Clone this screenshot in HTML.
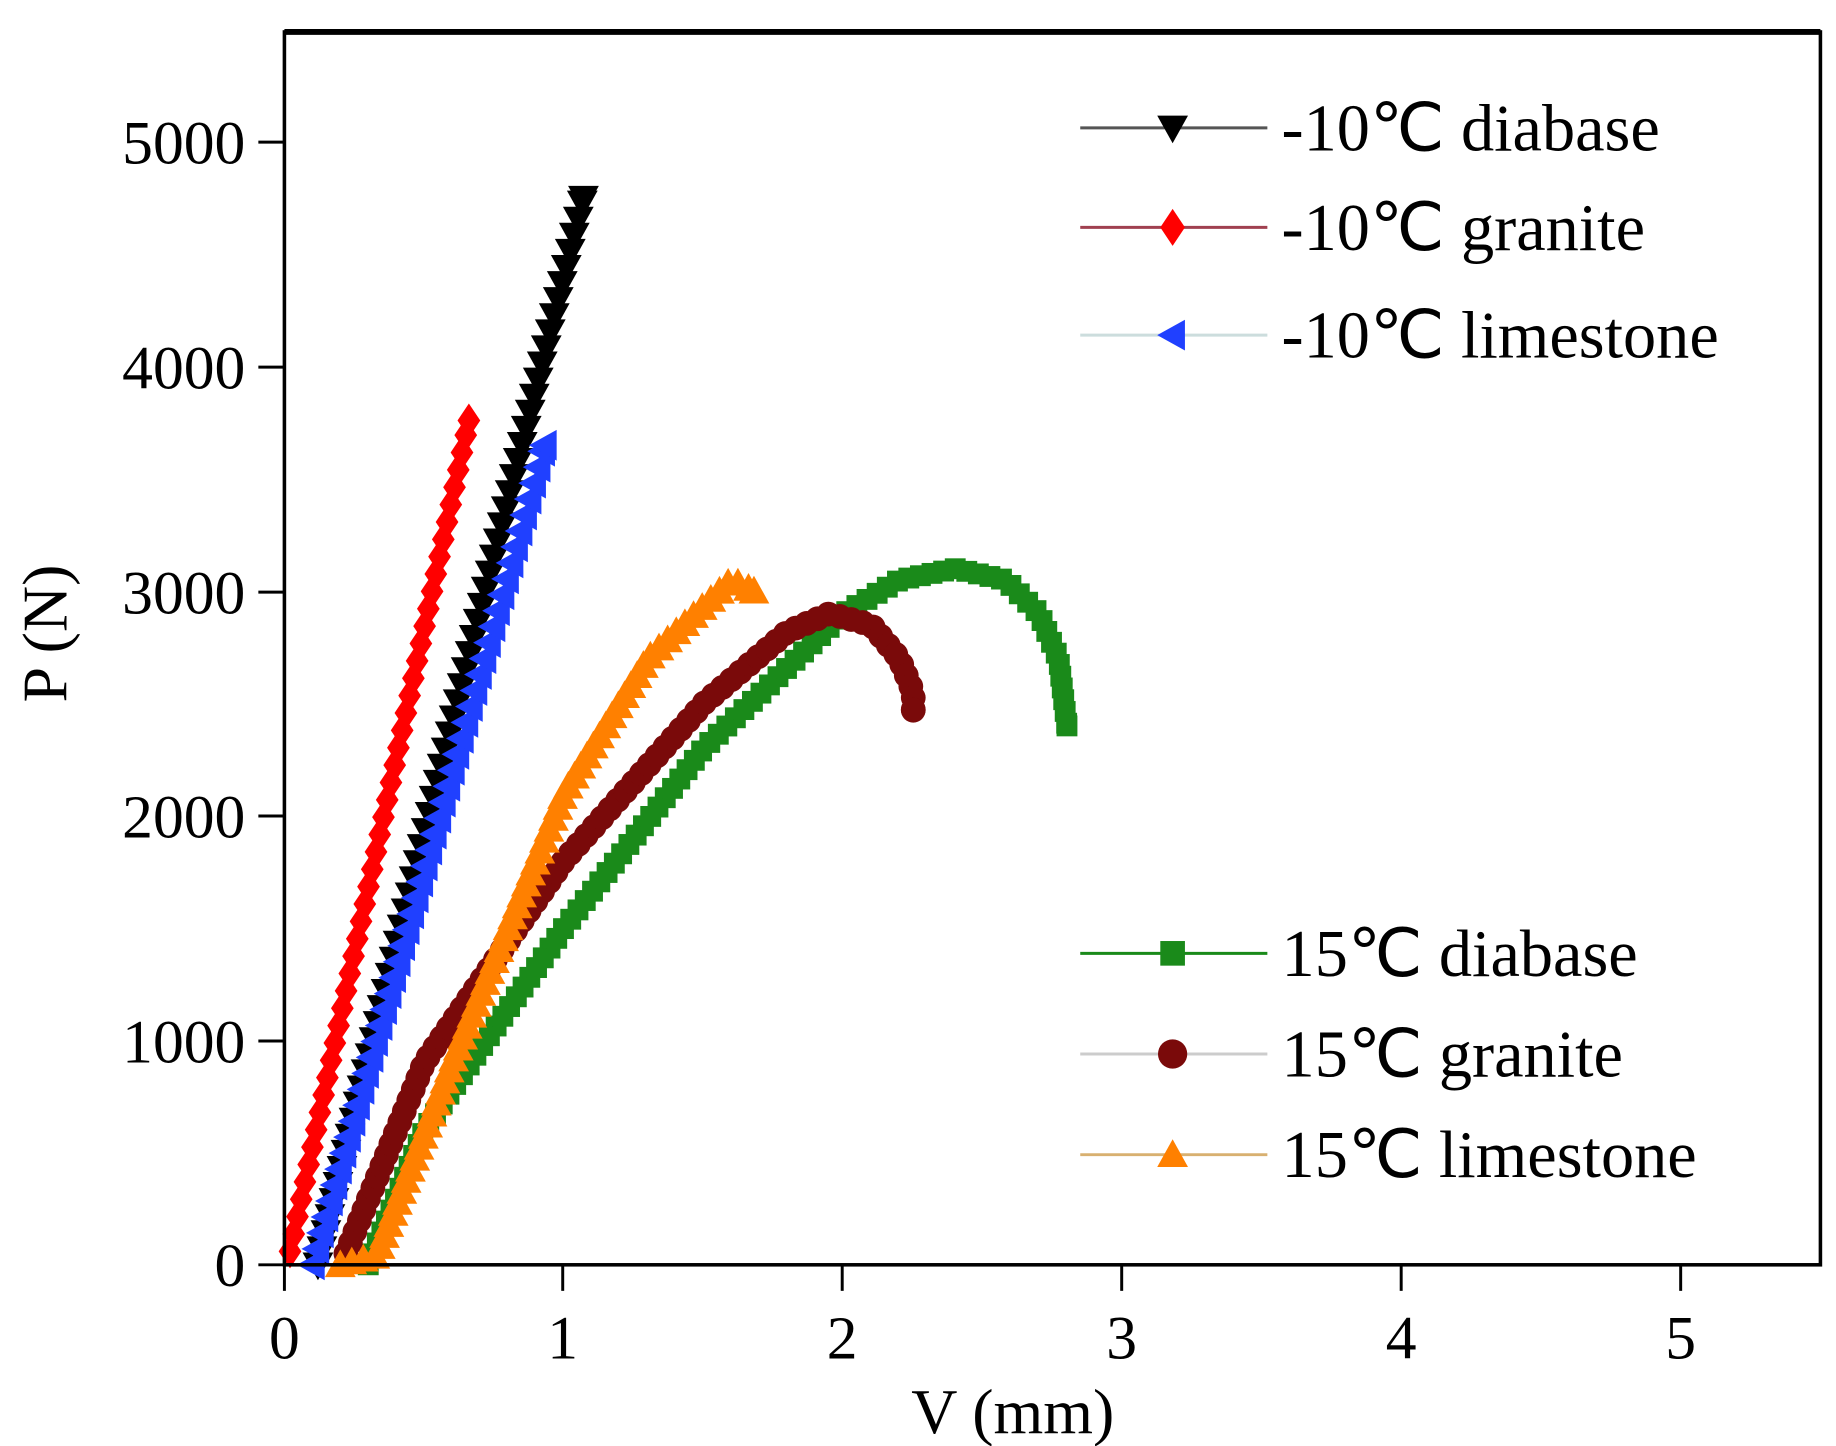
<!DOCTYPE html>
<html><head><meta charset="utf-8"><style>
html,body{margin:0;padding:0;background:#fff}
svg{display:block}
text{font-family:"Liberation Serif",serif;fill:#000}
</style></head><body>
<svg id="s" width="1836" height="1446" viewBox="0 0 1550 1221" xmlns="http://www.w3.org/2000/svg">
<rect x="0" y="0" width="1550" height="1221" fill="#fff"/>
<g id="data"></g>
<rect x="240" y="27" width="1297" height="1041" fill="none" stroke="#000" stroke-width="3"/>
<line x1="240" y1="27" x2="1537" y2="27" stroke="#000" stroke-width="5"/>
<g stroke="#000" stroke-width="2.5">
<line x1="218" y1="1068" x2="240" y2="1068"/><line x1="218" y1="879" x2="240" y2="879"/>
<line x1="218" y1="689" x2="240" y2="689"/><line x1="218" y1="500" x2="240" y2="500"/>
<line x1="218" y1="310" x2="240" y2="310"/><line x1="218" y1="120" x2="240" y2="120"/>
<line x1="240" y1="1068" x2="240" y2="1090"/><line x1="475" y1="1068" x2="475" y2="1090"/>
<line x1="711" y1="1068" x2="711" y2="1090"/><line x1="947" y1="1068" x2="947" y2="1090"/>
<line x1="1183" y1="1068" x2="1183" y2="1090"/><line x1="1419" y1="1068" x2="1419" y2="1090"/>
</g>
<g font-size="52" text-anchor="end">
<text x="207" y="1086">0</text><text x="207" y="897">1000</text><text x="207" y="707">2000</text>
<text x="207" y="518">3000</text><text x="207" y="328">4000</text><text x="207" y="138">5000</text>
</g>
<g font-size="52" text-anchor="middle">
<text x="240" y="1147">0</text><text x="475" y="1147">1</text><text x="711" y="1147">2</text>
<text x="947" y="1147">3</text><text x="1183" y="1147">4</text><text x="1419" y="1147">5</text>
</g>
<text x="855" y="1210" font-size="54" text-anchor="middle">V (mm)</text>
<text transform="translate(56,535) rotate(-90)" font-size="54" text-anchor="middle">P (N)</text>
<g font-size="56" id="leg"></g>
</svg>
<script>
const NS="http://www.w3.org/2000/svg";
const X=v=>240+236*v, Y=p=>1068-0.1896*p;
const g=document.getElementById('data'), L=document.getElementById('leg');
function mk(parent,type,cx,cy,c,s){
  let e;
  if(type==='sq'){e=document.createElementNS(NS,'rect');e.setAttribute('x',cx-s*0.8);e.setAttribute('y',cy-s*0.8);e.setAttribute('width',s*1.6);e.setAttribute('height',s*1.6);}
  else if(type==='ci'){e=document.createElementNS(NS,'circle');e.setAttribute('cx',cx);e.setAttribute('cy',cy);e.setAttribute('r',s*0.95);}
  else{let p;
    if(type==='dn')p=[[cx-s,cy-s*0.8],[cx+s,cy-s*0.8],[cx,cy+s]];
    if(type==='up')p=[[cx-s,cy+s*0.8],[cx+s,cy+s*0.8],[cx,cy-s]];
    if(type==='lf')p=[[cx+s*0.8,cy-s],[cx+s*0.8,cy+s],[cx-s,cy]];
    if(type==='di')p=[[cx,cy-s*1.2],[cx+s*0.8,cy],[cx,cy+s*1.2],[cx-s*0.8,cy]];
    e=document.createElementNS(NS,'polygon');e.setAttribute('points',p.map(q=>q.join(',')).join(' '));}
  e.setAttribute('fill',c);parent.appendChild(e);
}
function series(pts,type,c,s,step){
  const P=pts.map(q=>[X(q[0]),Y(q[1])]);
  const pl=document.createElementNS(NS,'polyline');
  pl.setAttribute('points',P.map(q=>q.join(',')).join(' '));
  pl.setAttribute('fill','none');pl.setAttribute('stroke',c);pl.setAttribute('stroke-width',3);g.appendChild(pl);
  let acc=0;mk(g,type,P[0][0],P[0][1],c,s);
  for(let i=1;i<P.length;i++){
    const dx=P[i][0]-P[i-1][0],dy=P[i][1]-P[i-1][1],d=Math.hypot(dx,dy);
    let t=step-acc;
    while(t<=d){mk(g,type,P[i-1][0]+dx*t/d,P[i-1][1]+dy*t/d,c,s);t+=step;}
    acc=d-(t-step);
  }
  mk(g,type,P[P.length-1][0],P[P.length-1][1],c,s);
}
series([[0.3,0],[0.5,600],[1,1500],[1.5,2300],[2,2900],[2.2,3050],[2.4,3100],[2.58,3050],[2.7,2900],[2.77,2700],[2.8,2400]],'sq','#1a8a1a',11,10);
series([[0.22,50],[0.5,900],[1,1800],[1.5,2500],[1.8,2820],[1.95,2900],[2.1,2850],[2.2,2700],[2.25,2550],[2.25,2470]],'ci','#7a0a0a',11,10);
series([[0.2,0],[0.33,40],[0.6,900],[1,2100],[1.3,2700],[1.6,3050],[1.68,3000]],'up','#ff8000',13,10);
series([[0.12,0],[1.07,4750]],'dn','#000',13,14);
series([[0.1,0],[0.93,3650]],'lf','#2040ff',13,14);
series([[0.02,60],[0.66,3760]],'di','#ff0000',12,15);
const leg=[[108,'#555','dn','#000','-10℃ diabase'],[192,'#a04050','di','#ff0000','-10℃ granite'],[283,'#cdd','lf','#2040ff','-10℃ limestone'],
[805,'#1a8a1a','sq','#1a8a1a','15℃ diabase'],[890,'#ccc','ci','#7a0a0a','15℃ granite'],[975,'#d8b070','up','#ff8000','15℃ limestone']];
for(const [y,lc,t,c,txt] of leg){
  const l=document.createElementNS(NS,'line');l.setAttribute('x1',912);l.setAttribute('x2',1070);l.setAttribute('y1',y);l.setAttribute('y2',y);
  l.setAttribute('stroke',lc);l.setAttribute('stroke-width',2.5);L.appendChild(l);
  mk(L,t,990,y,c,13);
  const tx=document.createElementNS(NS,'text');tx.setAttribute('x',1082);tx.setAttribute('y',y+19);tx.textContent=txt;L.appendChild(tx);
}
</script>
</body></html>
